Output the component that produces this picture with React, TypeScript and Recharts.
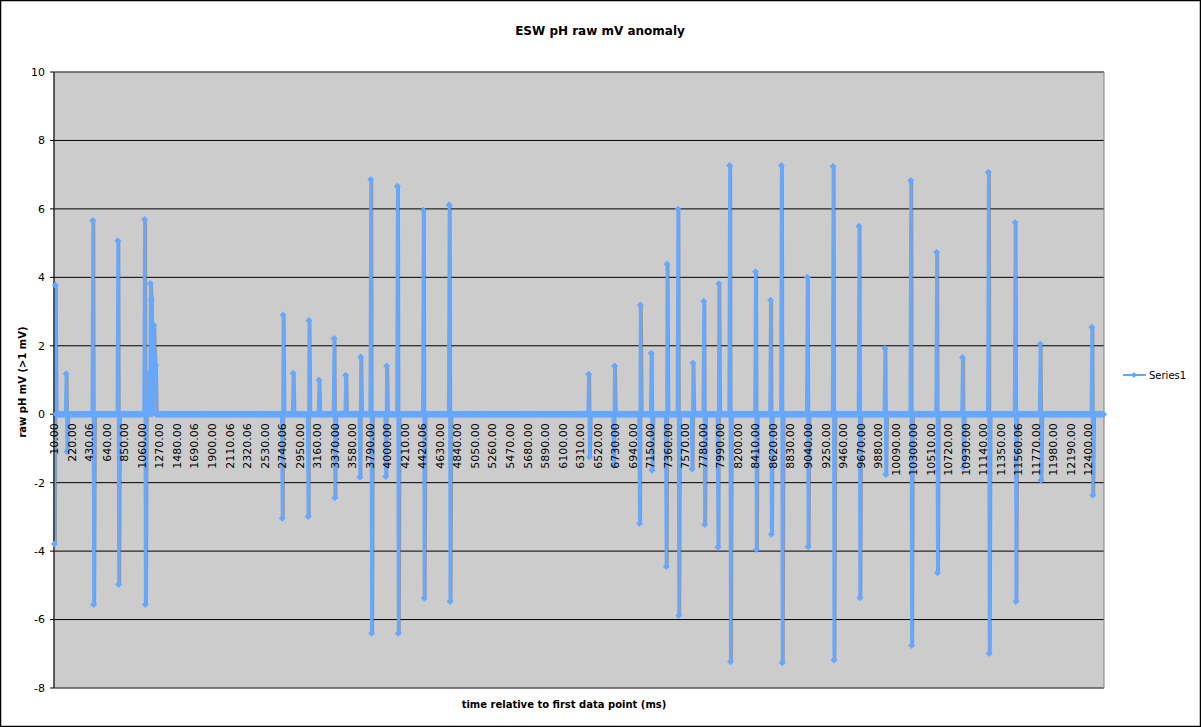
import { LineChart, Line, XAxis, YAxis, CartesianGrid, ReferenceArea } from "recharts";

// one sample every ~10 ms, labels shown on every 21st sample
const POINT_COUNT = 1258;
const TICK_STEP = 21;

const TICK_LABELS = [
  "10.00", "220.00", "430.06", "640.00", "850.00", "1060.00", "1270.00", "1480.00",
  "1690.06", "1900.00", "2110.06", "2320.06", "2530.00", "2740.06", "2950.00", "3160.00",
  "3370.00", "3580.00", "3790.00", "4000.00", "4210.00", "4420.06", "4630.00", "4840.00",
  "5050.00", "5260.00", "5470.00", "5680.00", "5890.00", "6100.00", "6310.00", "6520.00",
  "6730.00", "6940.00", "7150.00", "7360.00", "7570.00", "7780.00", "7990.00", "8200.00",
  "8410.00", "8620.00", "8830.00", "9040.00", "9250.00", "9460.00", "9670.00", "9880.00",
  "10090.00", "10300.00", "10510.00", "10720.00", "10930.00", "11140.00", "11350.00", "11560.06",
  "11770.00", "11980.00", "12190.00", "12400.00",
];

const Y_TICKS = [-8, -6, -4, -2, 0, 2, 4, 6, 8, 10];

// samples that leave the 0 baseline (sample number, mV)
const SPIKE_INDEX = [
  0, 1, 14, 15, 46, 47, 76, 77, 108, 109,
  113, 115, 116, 118, 119, 120, 121,
  273, 274, 286, 304, 305, 317, 335, 336, 349, 366, 367, 379, 380,
  397, 398, 411, 412, 442, 443, 473, 474,
  640, 641, 670, 671, 701, 702, 715, 716, 733, 734, 747, 748,
  764, 765, 778, 779, 795, 796, 809, 810, 840, 841, 858, 859, 871, 872,
  902, 903, 933, 934, 964, 965, 995, 996, 1026, 1027, 1057, 1058,
  1088, 1089, 1119, 1120, 1151, 1152, 1181, 1182, 1243, 1244,
];
const SPIKE_MV = [
  -3.79, 3.77, 1.18, -1.1, 5.66, -5.56, 5.07, -4.97, 5.69, -5.56,
  1.2, 3.82, 3.35, 2.46, 2.61, 1.67, 1.43,
  -3.04, 2.9, 1.2, -2.99, 2.74, 1.0, 2.21, -2.44, 1.14, -1.84, 1.67, 6.86, -6.4,
  -1.82, 1.41, 6.66, -6.4, 5.96, -5.38, 6.11, -5.47,
  1.17, -1.25, -1.5, 1.41, -3.19, 3.19, 1.78, -1.64, -4.45, 4.39, 5.99, -5.88,
  -1.6, 1.5, 3.3, -3.22, -3.89, 3.81, 7.27, -7.23, 4.16, -3.95, 3.33, -3.51, 7.27, -7.26,
  4.0, -3.87, 7.24, -7.18, 5.49, -5.36, 1.92, -1.76, 6.83, -6.76, 4.73, -4.63,
  1.66, -1.55, 7.07, -6.99, 5.6, -5.47, 2.05, -1.93, 2.54, -2.37,
];

const data = Array.from({ length: POINT_COUNT }, (_, i) => ({ i, mv: 0 }));
SPIKE_INDEX.forEach((idx, k) => {
  data[idx].mv = SPIKE_MV[k];
});

const BLUE = "#66a8ff";
const FONT = "'DejaVu Sans', Verdana, sans-serif";
const W = 1201;
const H = 727;
const TOP = 72;
const X_AXIS_H = 39;
const PLOT_H = H - TOP - X_AXIS_H;
const Y_MIN = Y_TICKS[0];
const Y_MAX = Y_TICKS[Y_TICKS.length - 1];

function Diamond(props: any) {
  const { cx, cy, index } = props;
  if (cx == null || cy == null) return <g key={index} />;
  const r = 3.5;
  return (
    <path
      key={index}
      d={`M${cx},${cy - r}L${cx + r},${cy}L${cx},${cy + r}L${cx - r},${cy}Z`}
      fill={BLUE}
    />
  );
}

// category labels hang just under the zero line, like the category axis crossing at 0
function ZeroTick(props: any) {
  const { x, y, payload } = props;
  const zeroY = y - (PLOT_H * (0 - Y_MIN)) / (Y_MAX - Y_MIN);
  const label = TICK_LABELS[Math.round(payload.value / TICK_STEP)];
  return (
    <text
      transform={`translate(${x},${zeroY + 9}) rotate(-90)`}
      textAnchor="end"
      dy="0.35em"
      fontSize={11}
      fontFamily={FONT}
      fill="#000"
    >
      {label}
    </text>
  );
}

export default function App() {
  return (
    <div style={{ position: "absolute", left: 0, top: 0, width: W, height: H, background: "#fff" }}>
      <style>{`.esw-line { filter: drop-shadow(1px 1px 0 rgba(110,110,110,0.55)); }`}</style>
      <LineChart
        width={W}
        height={H}
        data={data}
        margin={{ top: TOP, right: 97, bottom: 0, left: 0 }}
      >
        <CartesianGrid
          vertical={false}
          stroke="#000"
          strokeWidth={1}
          fill="#cccccc"
          fillOpacity={1}
        />
        <ReferenceArea
          x1={-0.5}
          x2={POINT_COUNT - 0.5}
          y1={Y_MIN}
          y2={Y_MAX}
          fill="none"
          stroke="#808080"
          strokeWidth={1}
          ifOverflow="visible"
        />
        <XAxis
          dataKey="i"
          type="number"
          domain={[-0.5, POINT_COUNT - 0.5]}
          ticks={TICK_LABELS.map((_, k) => k * TICK_STEP)}
          interval={0}
          height={X_AXIS_H}
          axisLine={false}
          tickLine={false}
          tickSize={0}
          tickMargin={0}
          tick={<ZeroTick />}
        />
        <YAxis
          type="number"
          domain={[Y_MIN, Y_MAX]}
          ticks={Y_TICKS}
          interval={0}
          width={54}
          axisLine={{ stroke: "#000", strokeWidth: 1 }}
          tickLine={{ stroke: "#000" }}
          tickSize={4}
          tickMargin={5}
          tick={{ fontSize: 11, fill: "#000", fontFamily: FONT }}
        />
        <Line
          className="esw-line"
          type="linear"
          dataKey="mv"
          stroke={BLUE}
          strokeWidth={3}
          dot={Diamond}
          activeDot={false}
          isAnimationActive={false}
        />
      </LineChart>
      <svg
        width={W}
        height={H}
        style={{ position: "absolute", left: 0, top: 0, pointerEvents: "none" }}
      >
        <rect x={0.5} y={0.5} width={W - 1} height={H - 1} fill="none" stroke="#000" strokeWidth={1.5} />
        <text x={600} y={31} textAnchor="middle" dominantBaseline="central" fontFamily={FONT} fontWeight="bold" fontSize={12}>
          ESW pH raw mV anomaly
        </text>
        <text x={564} y={704} textAnchor="middle" dominantBaseline="central" fontFamily={FONT} fontWeight="bold" fontSize={10}>
          time relative to first data point (ms)
        </text>
        <text
          transform="translate(22,382) rotate(-90)"
          textAnchor="middle"
          dominantBaseline="central"
          fontFamily={FONT}
          fontWeight="bold"
          fontSize={10}
        >
          raw pH mV (&gt;1 mV)
        </text>
        <line x1={1123} y1={375} x2={1146} y2={375} stroke={BLUE} strokeWidth={2} />
        <path d="M1134,372L1137,375L1134,378L1131,375Z" fill={BLUE} />
        <text x={1149} y={375} dominantBaseline="central" fontFamily={FONT} fontSize={10}>
          Series1
        </text>
      </svg>
    </div>
  );
}
